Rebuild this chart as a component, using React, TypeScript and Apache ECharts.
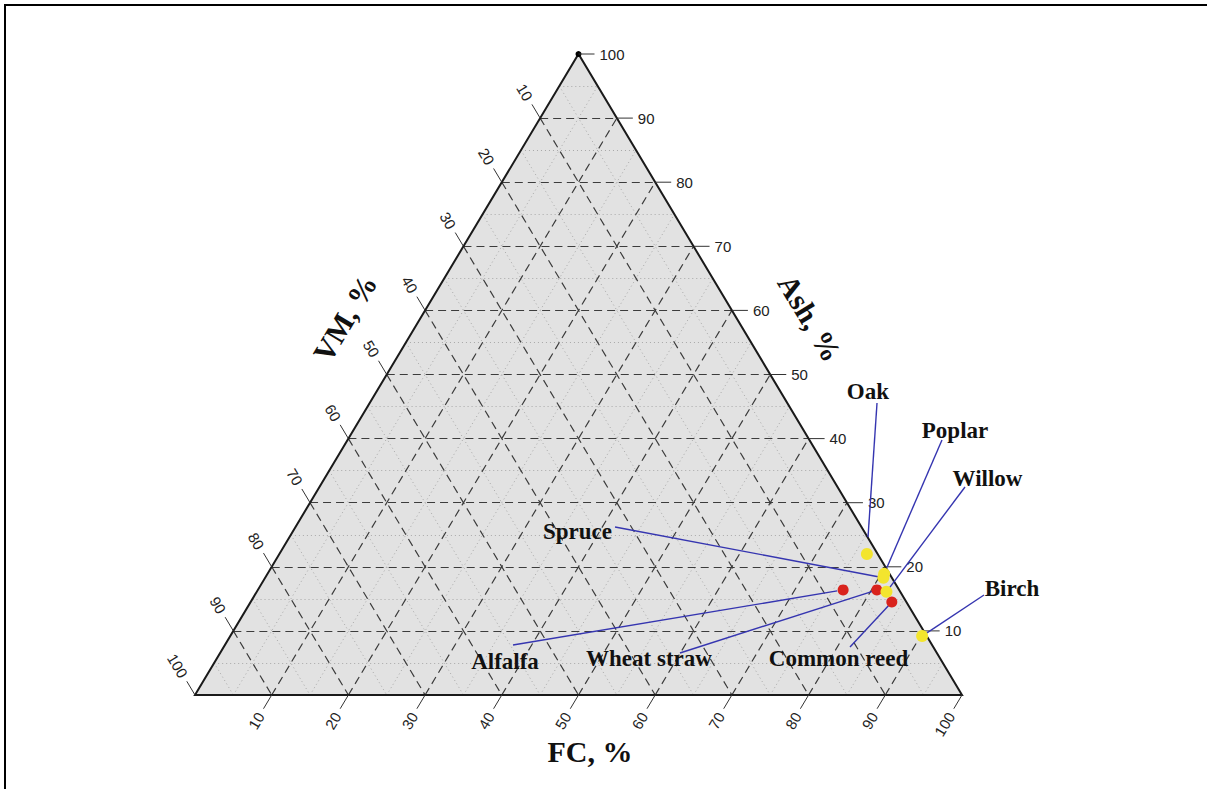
import React, { useEffect, useRef } from "react";
import * as echarts from "echarts";

// ---- data (percent) ----
const SAMPLES = ["Oak", "Poplar", "Willow", "Birch", "Spruce", "Alfalfa", "Wheat straw", "Common reed"];
const VM_PCT = [1.4, 0.7, 1.8, 0.6, 1.1, 7.3, 2.9, 1.9];
const FC_PCT = [76.6, 80.4, 82.1, 90.2, 80.6, 76.3, 80.7, 83.6];
const ASH_PCT = [22.0, 18.9, 16.1, 9.2, 18.3, 16.4, 16.4, 14.5];
const GROUPS = ["wood", "wood", "wood", "wood", "wood", "herb", "herb", "herb"];

const TICKS = [10, 20, 30, 40, 50, 60, 70, 80, 90, 100];
const GRID_MAJOR = [10, 20, 30, 40, 50, 60, 70, 80, 90];
const GRID_MINOR = [5, 15, 25, 35, 45, 55, 65, 75, 85, 95];
const AXIS_NAMES = ["Ash, %", "VM, %", "FC, %"];

// ---- layout (plot space, separate from data) ----
const LABEL_POS = [
  [0.8774, 0.4727], [0.9909, 0.4134], [1.0333, 0.337], [1.0652, 0.1654],
  [0.4987, 0.2558], [0.4042, 0.053], [0.5919, 0.0562], [0.839, 0.0562],
];
const LEADER_START = [
  [0.8892, 0.4555], [0.9739, 0.3978], [1.0039, 0.3245], [1.0287, 0.156],
  [0.5476, 0.2621], [0.4146, 0.078], [0.6323, 0.0655], [0.854, 0.0749],
];
const LEADER_GAP = [17, 7, 0, 4, 0, 6, 3, 5];

const COLORS: Record<string, string> = { wood: "#f3e52e", herb: "#d9231d" };

// ternary (fractions) -> plot space
function toXY(fc: number, ash: number): number[] {
  return [fc + ash / 2, ash];
}
function samplePoint(i: number): number[] {
  const s = VM_PCT[i] + FC_PCT[i] + ASH_PCT[i];
  return toXY(FC_PCT[i] / s, ASH_PCT[i] / s);
}

function gridSegments(values: number[]) {
  const segs: any[] = [];
  values.forEach((p) => {
    const v = p / 100;
    segs.push({ coords: [toXY(0, v), toXY(1 - v, v)] });
    segs.push({ coords: [toXY(0, 1 - v), toXY(1 - v, 0)] });
    segs.push({ coords: [toXY(v, 0), toXY(v, 1 - v)] });
  });
  return segs;
}

function groupPoints(group: string) {
  const out: any[] = [];
  SAMPLES.forEach((name, i) => {
    if (GROUPS[i] === group) {
      out.push({ name, value: samplePoint(i), itemStyle: { color: COLORS[group], opacity: 1 } });
    }
  });
  return out;
}

export default function App() {
  const ref = useRef<HTMLDivElement>(null);
  useEffect(() => {
    if (!ref.current) return;
    const chart = echarts.init(ref.current, null, { renderer: "svg" });

    const tickData: number[][] = [];
    [0, 1, 2].forEach((a) => TICKS.forEach((t) => tickData.push([a, t])));

    const titleStyle = {
      fontFamily: "Liberation Serif", fontWeight: "bold", fontSize: 30, fill: "#111",
      align: "center", verticalAlign: "middle",
    };

    const option: any = {
      animation: false,
      backgroundColor: "#ffffff",
      grid: { left: 195, right: 245, top: 54, bottom: 94 },
      xAxis: { type: "value", min: 0, max: 1, show: false },
      yAxis: { type: "value", min: 0, max: 1, show: false },
      graphic: [
        {
          type: "rect",
          shape: { x: 5, y: 5, width: 1240, height: 820 },
          style: { fill: "none", stroke: "#000", lineWidth: 2 },
          silent: true,
        },
        { type: "text", x: 590, y: 751, silent: true, style: { ...titleStyle, text: AXIS_NAMES[2] } },
        { type: "text", x: 345, y: 318, rotation: 1.031, silent: true, style: { ...titleStyle, text: AXIS_NAMES[1] } },
        { type: "text", x: 810, y: 318, rotation: -1.031, silent: true, style: { ...titleStyle, text: AXIS_NAMES[0] } },
      ],
      series: [
        {
          type: "custom", z: 1, silent: true,
          data: [[0, 0]],
          renderItem: (params: any, api: any) => {
            const a = api.coord(toXY(0, 0));
            const b = api.coord(toXY(1, 0));
            const c = api.coord(toXY(0, 1));
            return { type: "polygon", shape: { points: [a, b, c] }, style: { fill: "#e2e2e2" } };
          },
        },
        {
          type: "lines", coordinateSystem: "cartesian2d", z: 2, silent: true,
          data: gridSegments(GRID_MINOR),
          lineStyle: { color: "#a8a8a8", width: 1, type: [1, 3], opacity: 1 },
        },
        {
          type: "lines", coordinateSystem: "cartesian2d", z: 3, silent: true,
          data: gridSegments(GRID_MAJOR),
          lineStyle: { color: "#3c3c3c", width: 1.2, type: [8, 5], opacity: 1 },
        },
        {
          type: "custom", z: 4, silent: true,
          data: [[0, 0]],
          renderItem: (params: any, api: any) => {
            const a = api.coord(toXY(0, 0));
            const b = api.coord(toXY(1, 0));
            const c = api.coord(toXY(0, 1));
            return {
              type: "group",
              children: [
                { type: "polygon", shape: { points: [a, b, c] }, style: { fill: "none", stroke: "#1a1a1a", lineWidth: 2 } },
                { type: "circle", shape: { cx: c[0], cy: c[1], r: 3 }, style: { fill: "#000" } },
              ],
            };
          },
        },
        {
          type: "custom", z: 4, silent: true,
          data: tickData,
          renderItem: (params: any, api: any) => {
            const axis = api.value(0);
            const val = api.value(1);
            const v = val / 100;
            const apex = api.coord(toXY(0, 1));
            const bl = api.coord(toXY(0, 0));
            const br = api.coord(toXY(1, 0));
            let base: number[];
            let dir: number[];
            let rot = 0;
            if (axis === 0) {
              base = api.coord(toXY(1 - v, v));
              dir = [1, 0];
            } else if (axis === 1) {
              base = api.coord(toXY(0, 1 - v));
              const dx = apex[0] - br[0], dy = apex[1] - br[1];
              const n = Math.hypot(dx, dy);
              dir = [dx / n, dy / n];
              rot = -Math.atan2(br[1] - apex[1], br[0] - apex[0]);
            } else {
              base = api.coord(toXY(v, 0));
              const dx = bl[0] - apex[0], dy = bl[1] - apex[1];
              const n = Math.hypot(dx, dy);
              dir = [dx / n, dy / n];
              rot = -Math.atan2(apex[1] - bl[1], apex[0] - bl[0]);
            }
            const len = 16;
            const tick = {
              type: "line",
              shape: { x1: base[0], y1: base[1], x2: base[0] + dir[0] * len, y2: base[1] + dir[1] * len },
              style: { stroke: "#333", lineWidth: 1 },
            };
            let text: any;
            const txtStyle = { text: String(val), fontFamily: "Liberation Sans", fontSize: 15, fill: "#222" };
            if (axis === 0) {
              text = {
                type: "text", x: base[0] + len + 5, y: base[1],
                style: { ...txtStyle, align: "left", verticalAlign: "middle" },
              };
            } else {
              const dist = val >= 100 ? 34 : 30;
              text = {
                type: "text", x: base[0] + dir[0] * dist, y: base[1] + dir[1] * dist, rotation: rot,
                style: { ...txtStyle, align: "center", verticalAlign: "middle" },
              };
            }
            return { type: "group", children: [tick, text] };
          },
        },
        {
          type: "custom", z: 5, silent: true,
          data: SAMPLES.map((_, i) => [i]),
          renderItem: (params: any, api: any) => {
            const i = params.dataIndex;
            const p1 = api.coord(LEADER_START[i]);
            const p2 = api.coord(samplePoint(i));
            const dx = p2[0] - p1[0], dy = p2[1] - p1[1];
            const n = Math.hypot(dx, dy);
            const g = LEADER_GAP[i];
            return {
              type: "line",
              shape: { x1: p1[0], y1: p1[1], x2: p2[0] - (dx / n) * g, y2: p2[1] - (dy / n) * g },
              style: { stroke: "#3535b0", lineWidth: 1.4 },
            };
          },
        },
        {
          type: "scatter", z: 6, symbolSize: 11, silent: true,
          data: groupPoints("herb"),
        },
        {
          type: "scatter", z: 7, symbolSize: 12, silent: true,
          data: groupPoints("wood"),
        },
        {
          type: "custom", z: 8, silent: true,
          data: SAMPLES.map((_, i) => [i]),
          renderItem: (params: any, api: any) => {
            const i = params.dataIndex;
            const p = api.coord(LABEL_POS[i]);
            return {
              type: "text", x: p[0], y: p[1],
              style: {
                text: SAMPLES[i], fontFamily: "Liberation Serif", fontWeight: "bold", fontSize: 23,
                fill: "#111", align: "center", verticalAlign: "middle",
              },
            };
          },
        },
      ],
    };
    chart.setOption(option);
    return () => chart.dispose();
  }, []);
  return (
    <div
      ref={ref}
      style={{ position: "absolute", left: 0, top: 0, width: 1207, height: 789, background: "#fff" }}
    />
  );
}
